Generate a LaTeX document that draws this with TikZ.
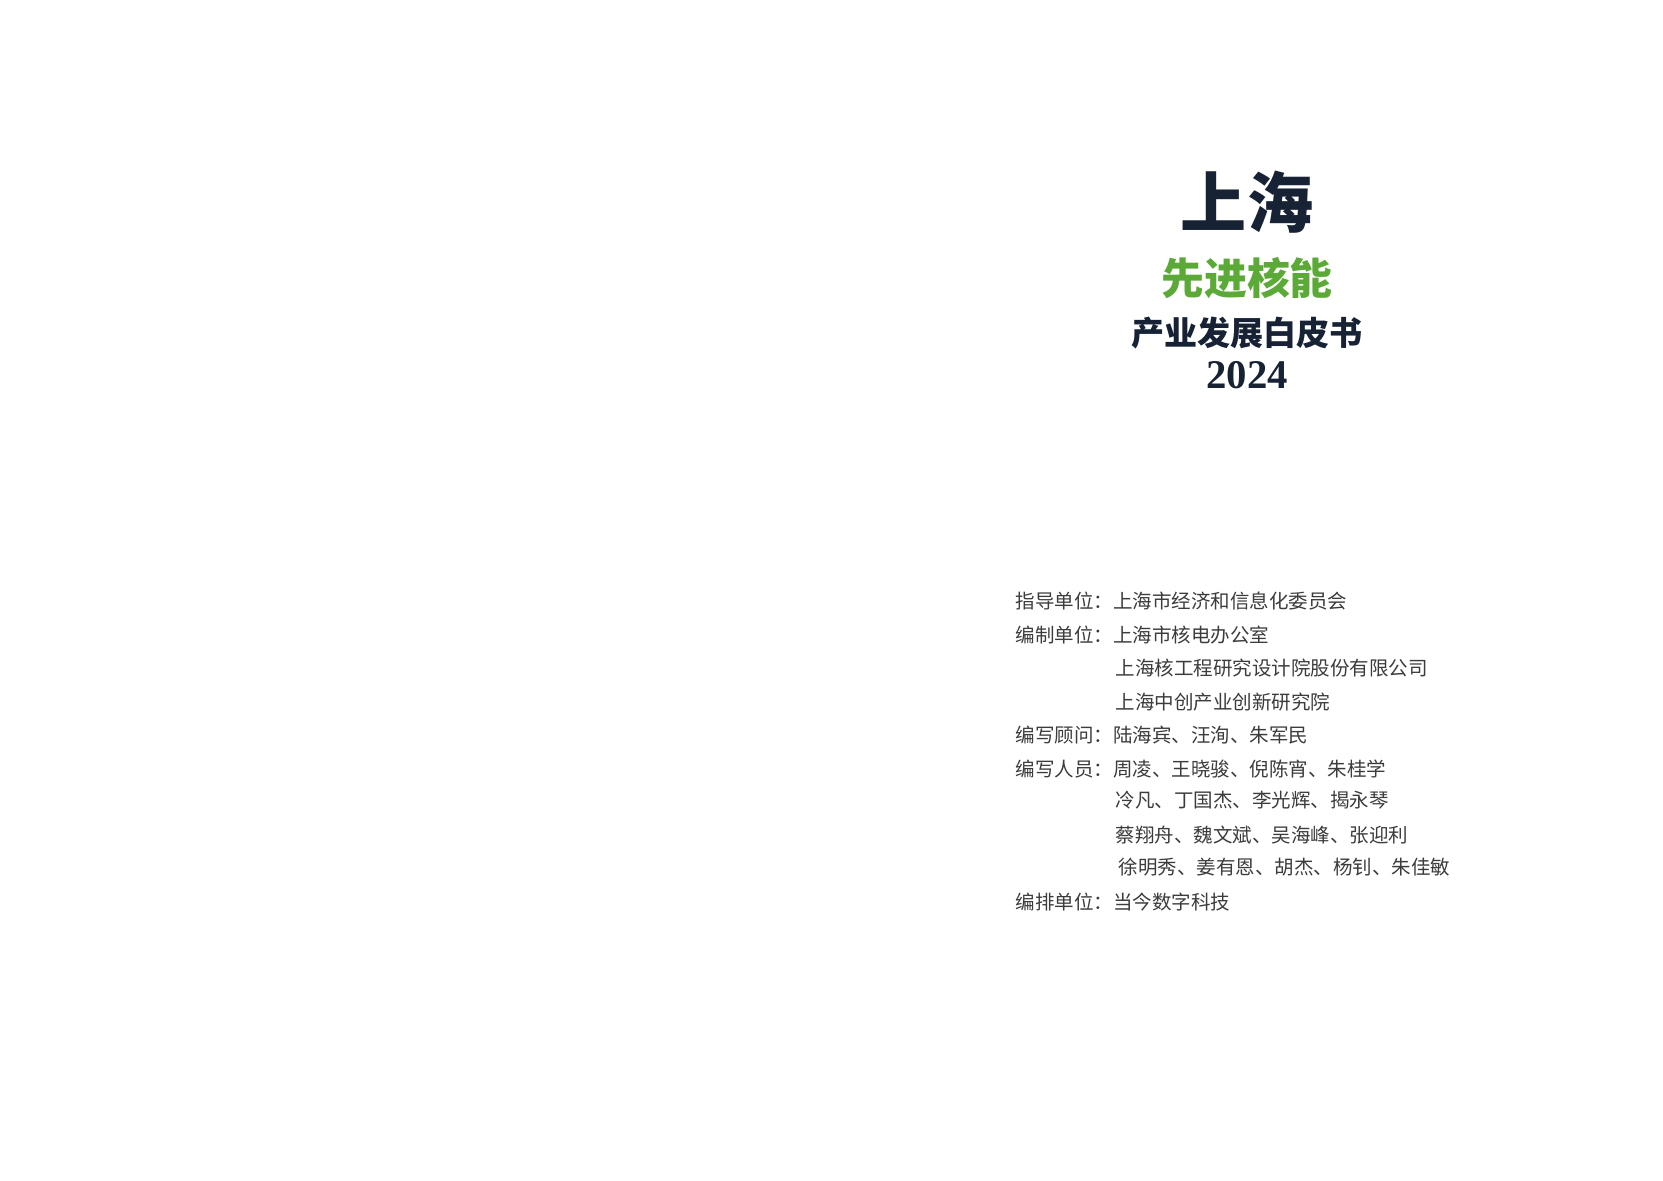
\documentclass[tikz,border=0pt]{standalone}
\usepackage{fontspec}
\newfontfamily\cjk{Noto Sans CJK SC}
\newfontfamily\serifnum{Liberation Serif}
\definecolor{navy}{HTML}{172335}
\definecolor{leaf}{HTML}{5BAA37}
\definecolor{ink}{HTML}{3C3C3C}
\tikzset{
  titleline/.style={inner sep=0pt, anchor=center, text=navy},
  infoline/.style={inner sep=0pt, anchor=west, text=ink, font=\cjk\fontsize{5.55pt}{5.55pt}\selectfont}
}
\begin{document}
\begin{tikzpicture}
\useasboundingbox (0,0) rectangle (16.63,-11.81);
\fill[white] (0,0) rectangle (16.63,-11.81);
% title block
\node[titleline, font=\cjk\bfseries\fontsize{18.8pt}{18.8pt}\selectfont] (t1) at (12.47,-2.02) {上海};
\node[titleline, text=leaf, font=\cjk\bfseries\fontsize{12.2pt}{12.2pt}\selectfont] (t2) at (12.47,-2.785) {先进核能};
\node[titleline, font=\cjk\bfseries\fontsize{9.4pt}{9.4pt}\selectfont] (t3) at (12.47,-3.33) {产业发展白皮书};
\node[titleline, font=\serifnum\bfseries\fontsize{11.6pt}{11.6pt}\selectfont] (t4) at (12.47,-3.75) {2024};
% info block
\node[infoline] (l1) at (10.15,-6.015) {指导单位：上海市经济和信息化委员会};
\node[infoline] (l2) at (10.15,-6.35) {编制单位：上海市核电办公室};
\node[infoline] (l3) at (11.15,-6.68) {上海核工程研究设计院股份有限公司};
\node[infoline] (l4) at (11.15,-7.02) {上海中创产业创新研究院};
\node[infoline] (l5) at (10.15,-7.35) {编写顾问：陆海宾、汪洵、朱军民};
\node[infoline] (l6) at (10.15,-7.69) {编写人员：周凌、王晓骏、倪陈宵、朱桂学};
\node[infoline] (l7) at (11.15,-8.00) {冷凡、丁国杰、李光辉、揭永琴};
\node[infoline] (l8) at (11.15,-8.35) {蔡翔舟、魏文斌、吴海峰、张迎利};
\node[infoline] (l9) at (11.18,-8.67) {徐明秀、姜有恩、胡杰、杨钊、朱佳敏};
\node[infoline] (l10) at (10.15,-9.02) {编排单位：当今数字科技};
\end{tikzpicture}
\end{document}
